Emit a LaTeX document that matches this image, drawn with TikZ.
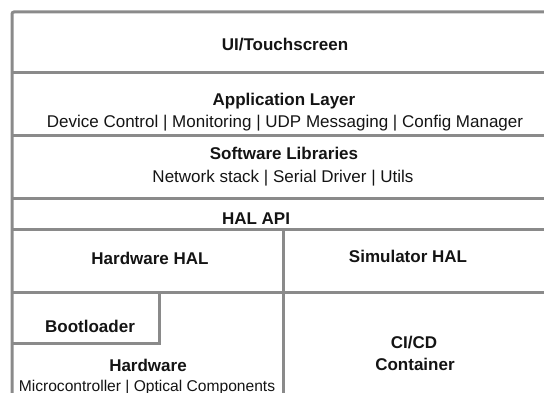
\documentclass[tikz,border=0pt]{standalone}
\usepackage{fontspec}
\setmainfont{Liberation Sans}
\definecolor{rule}{HTML}{8A8A8A}
\definecolor{ink}{HTML}{141414}
\tikzset{
  layerline/.style={draw=rule, line width=3pt},
  title/.style={font=\bfseries\fontsize{17}{20}\selectfont, text=ink, anchor=base, inner sep=0pt},
  detail/.style={font=\fontsize{17}{20}\selectfont, text=ink, anchor=base, inner sep=0pt},
  smalldetail/.style={font=\fontsize{15.6}{18}\selectfont, text=ink, anchor=base, inner sep=0pt},
}
\begin{document}
\begin{tikzpicture}[x=1pt, y=-1pt]
\useasboundingbox (0,0) rectangle (544,393);
\clip (0,0) rectangle (544,393);

% outer frame, open at the right and bottom edges
\draw[layerline, rounded corners=2pt] (12,410) -- (12,12) -- (560,12);

% horizontal layer boundaries
\draw[layerline] (12,73) -- (560,73);
\draw[layerline] (12,136) -- (560,136);
\draw[layerline] (12,199) -- (560,199);
\draw[layerline] (12,230) -- (560,230);
\draw[layerline] (12,292) -- (560,292);

% split between hardware and simulator columns
\draw[layerline] (283,230) -- (283,410);

% bootloader block
\draw[layerline] (12,343) -- (159,343) -- (159,292);

% labels
\node[title] (ui) at (285,51) {UI/Touchscreen};
\node[title] (app) at (284,106) {Application Layer};
\node[detail] (appdet) at (285,128) {Device Control | Monitoring | UDP Messaging | Config Manager};
\node[title] (libs) at (284,159.5) {Software Libraries};
\node[detail] (libsdet) at (283,183) {Network stack | Serial Driver | Utils};
\node[title] (halapi) at (256,224.5) {HAL API};
\node[title] (hwhal) at (150,264.5) {Hardware HAL};
\node[title] (simhal) at (408,262) {Simulator HAL};
\node[title] (boot) at (90,332) {Bootloader};
\node[title] (hw) at (148,371) {Hardware};
\node[smalldetail] (hwdet) at (147,391) {Microcontroller | Optical Components};
\node[title] (cicd) at (414,348.5) {CI/CD};
\node[title] (cont) at (415,370) {Container};
\end{tikzpicture}
\end{document}
